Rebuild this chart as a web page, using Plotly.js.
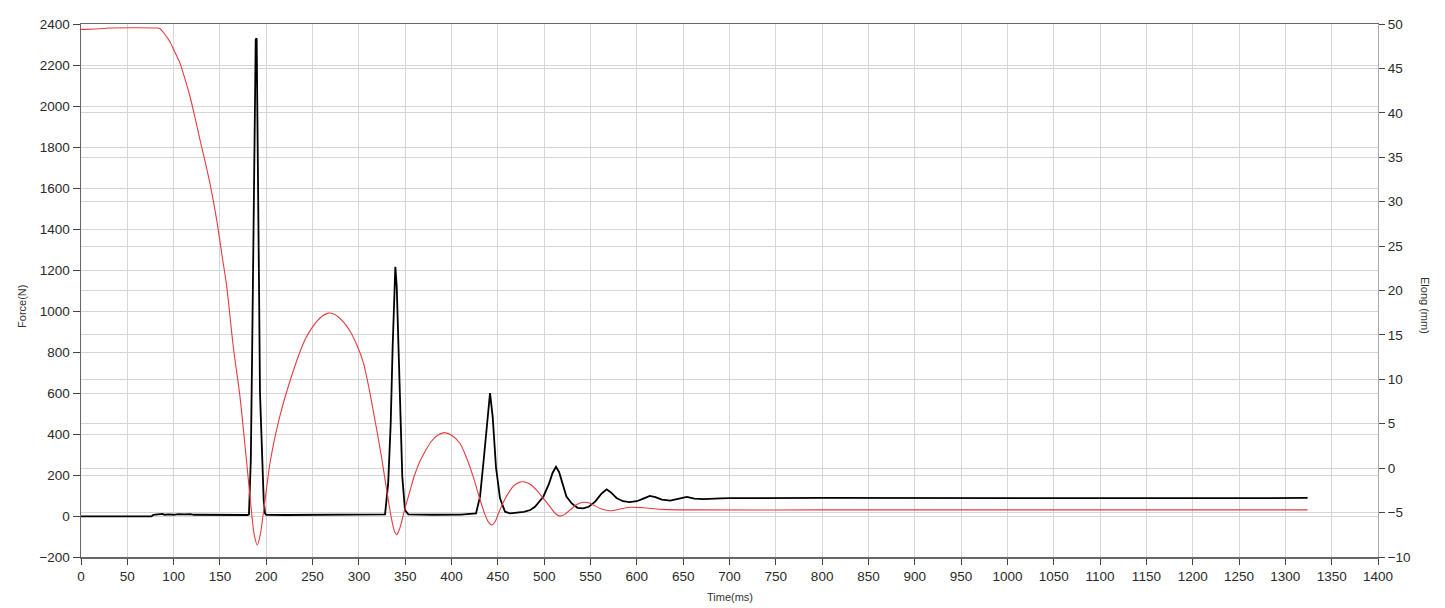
<!DOCTYPE html>
<html>
<head>
<meta charset="utf-8">
<script src="https://cdn.plot.ly/plotly-3.0.1.min.js"></script>
<style>
html,body{margin:0;padding:0;background:#fff;}
#chart{width:1445px;height:608px;}
</style>
</head>
<body>
<div id="chart"></div>
<script>
// Force (N) — black trace, left axis
var forceTime = [0,40,76,78,85,88,90,95,100,105,112,118,122,140,150,165,180,181.3,183.3,184.6,186.1,187.6,188.6,189.6,190.3,192.1,193.2,195.7,197.2,198.6,200,220,250,280,300,320,328.2,331.6,334.3,336.4,337.9,339.3,340.8,342.5,344.3,346.8,349.7,353.3,380,410,426.4,430.7,435,438.6,441.5,444.4,447.9,452.3,457.7,463,470,478,485,490,499,505,509,512.7,516,520,524,530,536,542,548,555,562,567.4,572,578,585,592,600,607,614,620,627,636,645,654,662,672,690,700,800,900,1000,1100,1200,1324];
var forceN = [-2,-2,-2,5,7,10,6,8,6,9,8,9,6,5,6,4,5,8,273,750,1409,2039,2325,2330,1883,1151,600,240,80,13,6,5,6,4,6,5,8,160,452,826,1102,1216,1119,842,517,192,29,8,6,7,13,94,289,484,600,484,240,86,21,13,15,20,29,45,94,155,210,240,215,150,95,60,40,37,45,70,110,130,115,88,72,68,72,85,98,92,80,75,83,93,85,82,86,87,88,87,88,88,87,88];

// Elong (mm) — red trace, right axis
var elongTime = [0,5,25,30,82,85,90,96,101,106.9,112,117.7,123,128.5,134,139.2,146.5,151.9,157.3,164.4,171.6,178.9,184.2,187,190.3,193.5,196.8,204,210,215,220,228,236,243,250,258,267,274,282,290,298,305,312,318,324,330,335,338,340.8,344,349,355,360,366,372,378,385,392,400,409,416,423.5,430,436,440,443.3,447,451,456,462,467,473,479,486,492,499,506,512,517,522,528,535,542,548,553,562,571,582,593,607,628,660,800,1000,1200,1324];
var elongMM = [49.4,49.4,49.5,49.55,49.55,49.5,48.9,48.0,46.9,45.57,43.9,41.81,39.5,36.94,34.5,32.06,27.93,24.18,20.43,13.67,8.05,0.55,-5.08,-7.5,-8.65,-7.5,-5.08,0.55,3.8,6.0,7.9,10.6,13.0,14.7,15.9,16.9,17.45,17.3,16.6,15.5,13.8,11.8,8.4,5.0,1.5,-2.5,-5.6,-7.0,-7.5,-6.8,-4.8,-2.6,-0.8,0.8,2.0,3.0,3.7,4.0,3.7,2.8,1.2,-1.0,-3.3,-5.2,-6.1,-6.4,-6.0,-5.0,-3.8,-2.7,-2.0,-1.6,-1.55,-1.9,-2.5,-3.4,-4.3,-5.1,-5.4,-5.2,-4.7,-4.1,-3.84,-3.9,-4.15,-4.6,-4.8,-4.6,-4.4,-4.45,-4.64,-4.7,-4.7,-4.7,-4.7,-4.7];

var axisFont = {family: 'Liberation Sans, Arial, sans-serif', size: 13.5, color: '#2a2a2a'};
var titleFont = {family: 'Liberation Sans, Arial, sans-serif', size: 11, color: '#333'};
var gridCol = '#d6d6d6';

var traces = [
  {x: forceTime, y: forceN, type: 'scatter', mode: 'lines', name: 'Force(N)',
   line: {color: '#000000', width: 1.8}, yaxis: 'y', hoverinfo: 'x+y'},
  {x: elongTime, y: elongMM, type: 'scatter', mode: 'lines', name: 'Elong (mm)',
   line: {color: '#e63b40', width: 1.1, shape: 'spline', smoothing: 0.8}, yaxis: 'y2', hoverinfo: 'x+y'}
];

var layout = {
  width: 1445, height: 608,
  margin: {l: 81, r: 67, t: 24, b: 51, pad: 0},
  paper_bgcolor: '#ffffff', plot_bgcolor: '#ffffff',
  showlegend: false,
  font: axisFont,
  xaxis: {
    range: [0, 1400], tick0: 0, dtick: 50, autorange: false,
    ticks: 'outside', ticklen: 6, tickcolor: '#444', tickwidth: 1,
    showline: true, linecolor: '#666', linewidth: 1.5, mirror: true,
    showgrid: true, gridcolor: gridCol, gridwidth: 1, zeroline: false,
    tickfont: axisFont
  },
  yaxis: {
    range: [-200, 2400], tick0: -200, dtick: 200, autorange: false,
    ticks: 'outside', ticklen: 7, tickcolor: '#444', tickwidth: 1,
    showline: true, linecolor: '#666', linewidth: 1.5,
    showgrid: true, gridcolor: gridCol, gridwidth: 1, zeroline: false,
    tickfont: axisFont
  },
  yaxis2: {
    range: [-10, 50], tick0: -10, dtick: 5, autorange: false,
    overlaying: 'y', side: 'right',
    ticks: 'outside', ticklen: 6, tickcolor: '#444', tickwidth: 1,
    showline: true, linecolor: '#aaaaaa', linewidth: 1,
    showgrid: true, gridcolor: gridCol, gridwidth: 1, zeroline: false,
    tickfont: axisFont
  },
  annotations: [
    {text: 'Force(N)', xref: 'paper', yref: 'paper', x: -0.0455, y: 0.471,
     showarrow: false, textangle: -90, font: titleFont,
     xanchor: 'center', yanchor: 'middle'},
    {text: 'Time(ms)', xref: 'paper', yref: 'paper', x: 0.5, y: -0.075,
     showarrow: false, font: titleFont,
     xanchor: 'center', yanchor: 'middle'},
    {text: 'Elong (mm)', xref: 'paper', yref: 'paper', x: 1.0362, y: 0.471,
     showarrow: false, textangle: 90, font: titleFont,
     xanchor: 'center', yanchor: 'middle'}
  ]
};

Plotly.newPlot('chart', traces, layout, {displayModeBar: false, staticPlot: true});
</script>
</body>
</html>
